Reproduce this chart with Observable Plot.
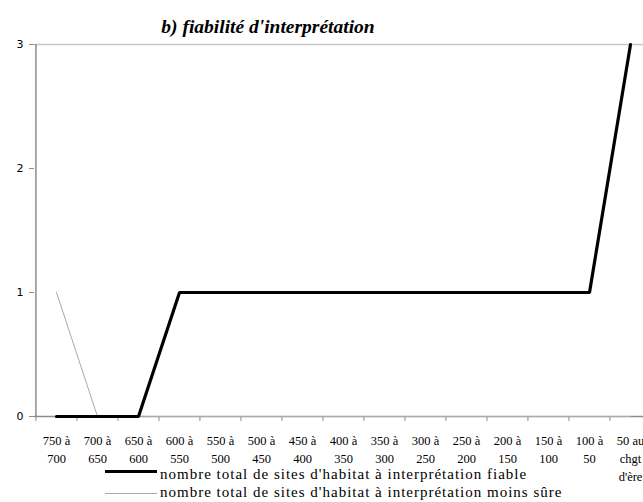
<!DOCTYPE html>
<html><head><meta charset="utf-8">
<script src="https://cdn.jsdelivr.net/npm/d3@7"></script>
<script src="https://cdn.jsdelivr.net/npm/@observablehq/plot@0.6"></script>
<style>
body{margin:0;background:#fff;overflow:hidden;}
#wrap{position:relative;width:643px;height:502px;overflow:hidden;}
#title{position:absolute;left:268px;transform:translateX(-50%);top:16px;white-space:nowrap;font-family:"Liberation Serif",serif;font-weight:bold;font-style:italic;font-size:19.5px;line-height:22px;}
#chart{position:absolute;left:0;top:0;}
.leg{position:absolute;left:0;font-family:"Liberation Serif",serif;font-size:15px;letter-spacing:1px;line-height:15px;white-space:nowrap;}
.leg span.sw{position:absolute;left:105px;width:52px;}
.leg span.tx{position:absolute;left:160px;display:inline-block;height:15px;line-height:15px;}
</style></head>
<body><div id="wrap"><div id="chart"></div><div id="title">b) fiabilité d'interprétation</div>
<div class="leg" style="top:467px"><span class="sw" style="top:3px;height:3px;background:#000"></span><span class="tx" style="top:0"></span></div>
<div class="leg" style="top:485px"><span class="sw" style="top:8px;height:1px;background:#aaa"></span><span class="tx" style="top:0"></span></div>
</div>
<script>
const categories = ["750 à\n700","700 à\n650","650 à\n600","600 à\n550","550 à\n500","500 à\n450","450 à\n400","400 à\n350","350 à\n300","300 à\n250","250 à\n200","200 à\n150","150 à\n100","100 à\n50","50 au\nchgt\nd'ère"];
const fiable = [0,0,0,1,1,1,1,1,1,1,1,1,1,1,3];
const moinsSure = [1,0,0,0,0,0,0,0,0,0,0,0,0,0,0];
const seriesNames = ["nombre total de sites d'habitat à interprétation fiable","nombre total de sites d'habitat à interprétation moins sûre"];
const yTicks = [0,1,2,3];

const txs = document.querySelectorAll(".leg .tx");
txs[0].textContent = seriesNames[0];
txs[1].textContent = seriesNames[1];

const dataF = categories.map((c,i)=>({c, v: fiable[i]}));
const dataM = categories.map((c,i)=>({c, v: moinsSure[i]}));

const W = 643, ML = 34, MR = -8;
const bw = (W - ML - MR) / categories.length;
const serif = "'Liberation Serif', serif";

const plot = Plot.plot({
  width: W, height: 470,
  marginLeft: ML, marginRight: MR, marginTop: 44, marginBottom: 54,
  style: {fontFamily: serif, background: "transparent", overflow: "visible"},
  x: {type: "point", domain: categories, padding: 0.5, axis: null},
  y: {domain: [0,3], axis: null},
  marks: [
    Plot.ruleY([3], {stroke: "#c8c8c8", strokeWidth: 1.5}),
    Plot.ruleY([0], {stroke: "#8c8c8c", strokeWidth: 1.5}),
    Plot.ruleX([categories[0]], {y1: 0, y2: 3, dx: -bw/2, stroke: "#8c8c8c", strokeWidth: 1.5}),
    Plot.axisX({ticks: categories, tickSize: 5, dx: -bw/2, tickFormat: () => "", label: null, stroke: "#8c8c8c"}),
    Plot.text(categories, {x: d=>d, text: d=>d, frameAnchor: "bottom", lineAnchor: "top", dy: 16, lineHeight: 1.42, fontSize: 12.5, fontFamily: serif, fill: "#000"}),
    Plot.axisY({ticks: yTicks, tickSize: 5, tickPadding: 6, tickFormat: d => String(d), label: null, stroke: "#8c8c8c", fontFamily: "'DejaVu Sans', sans-serif", fontSize: 11, fill: "#000"}),
    Plot.line(dataM, {x: "c", y: "v", stroke: "#aaa", strokeWidth: 1}),
    Plot.line(dataF, {x: "c", y: "v", stroke: "#000", strokeWidth: 3.2, strokeLinejoin: "miter"})
  ]
});
document.getElementById("chart").appendChild(plot);
</script></body></html>
